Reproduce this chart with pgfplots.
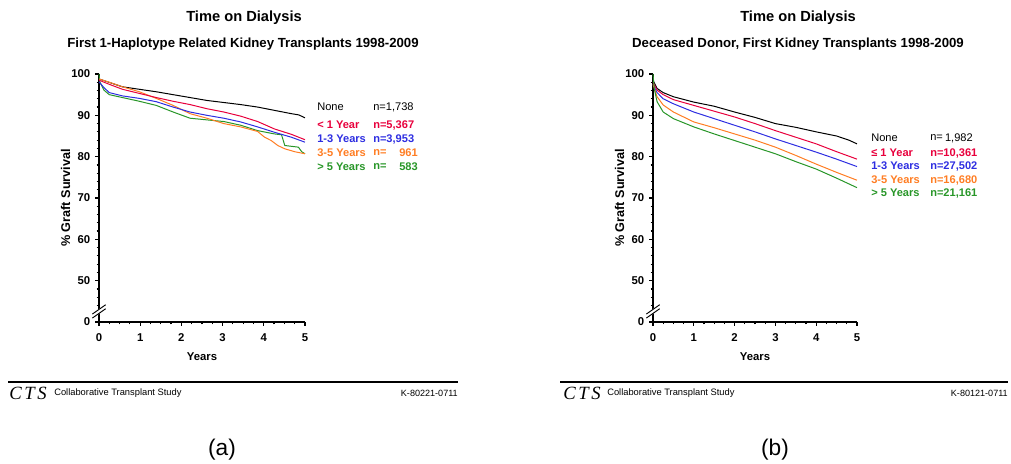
\documentclass[border=0pt]{standalone}
\usepackage{fontspec}
\setmainfont{Liberation Sans}
\newfontfamily\ctsfont{Liberation Serif}
\usepackage{pgfplots}
\pgfplotsset{compat=1.18}
\definecolor{cred}{RGB}{232,0,60}
\definecolor{cblue}{RGB}{45,45,225}
\definecolor{corange}{RGB}{255,125,35}
\definecolor{cgreen}{RGB}{40,150,40}
\pgfplotsset{kmaxis/.style={
  scale only axis, width=154.5pt, height=186pt,
  xmin=0, xmax=5, ymin=40, ymax=100,
  axis x line*=bottom, axis y line*=left,
  axis line style={line width=1.1pt, -},
  xtick={0,1,2,3,4,5}, ytick={40,50,60,70,80,90,100},
  yticklabels={0,50,60,70,80,90,100},
  minor x tick num=3, minor y tick num=4,
  tick align=outside, major tick length=3pt, minor tick length=1.8pt,
  every tick/.style={line width=0.9pt, black},
  /pgf/number format/assume math mode=true,
  ticklabel style={font=\fontsize{8.5}{9}\selectfont\bfseries},
  xticklabel style={yshift=-2.2pt},
  label style={font=\fontsize{8.5}{9}\selectfont\bfseries},
  xlabel={Years}, ylabel={\% Graft Survival},
  xlabel style={yshift=-1.5pt},
  ylabel style={yshift=-6pt, font=\fontsize{9.5}{10}\selectfont\bfseries},
  every axis plot/.append style={line width=0.75pt},
  clip=false,
}}
\newcommand{\axbreak}{%
  \draw[white, line width=3pt] ([xshift=-5pt,yshift=-3pt]axis cs:0,42.4) -- ++(10pt,7pt);
  \draw[black, line width=0.7pt] ([xshift=-5pt,yshift=-4.5pt]axis cs:0,42.4) -- ++(10pt,7pt);
  \draw[black, line width=0.7pt] ([xshift=-5pt,yshift=-1.5pt]axis cs:0,42.4) -- ++(10pt,7pt);
}
\begin{document}
\begin{tikzpicture}[x=0.75pt, y=0.75pt]
\path[use as bounding box] (0,0) rectangle (1011,464);
% ---------------- Left panel ----------------
\begin{axis}[kmaxis, at={(74.25pt,106.5pt)}, anchor=south west]
\addplot[black] coordinates {(0,98.8) (0.57,96.9) (0.98,96.3) (1.39,95.7) (1.80,95.0) (2.21,94.3) (2.62,93.6) (3.03,93.1) (3.44,92.6) (3.85,92.0) (4.26,91.2) (4.67,90.4) (4.85,90.1) (5,89.4)};
\addplot[cgreen] coordinates {(0,100) (0.02,98.1) (0.12,96.1) (0.25,95.0) (0.57,94.3) (0.98,93.4) (1.39,92.4) (1.80,90.8) (2.21,89.3) (2.62,88.9) (3.03,88.5) (3.44,87.6) (3.85,86.3) (4.26,85.5) (4.43,85.3) (4.51,82.7) (4.84,82.3) (4.92,81.2) (5,80.7)};
\addplot[corange] coordinates {(0,98.8) (0.25,98.0) (0.57,96.9) (0.98,95.7) (1.39,94.1) (1.80,92.4) (2.21,90.4) (2.62,89.3) (3.03,88.0) (3.44,87.2) (3.85,86.1) (4.02,84.7) (4.18,83.9) (4.34,82.7) (4.51,81.9) (4.75,81.2) (5,80.7)};
\addplot[cblue] coordinates {(0,98.1) (0.12,96.7) (0.25,95.5) (0.57,94.7) (0.98,94.1) (1.39,93.3) (1.80,92.0) (2.21,90.8) (2.62,90.0) (3.03,89.3) (3.44,88.4) (3.85,87.2) (4.26,85.9) (4.67,84.7) (5,83.5)};
\addplot[cred] coordinates {(0,98.5) (0.25,97.5) (0.57,96.3) (0.98,95.3) (1.39,94.3) (1.80,93.4) (2.21,92.6) (2.62,91.6) (3.03,90.8) (3.44,89.8) (3.85,88.5) (4.26,86.7) (4.67,85.4) (5,84.1)};
\axbreak
\end{axis}
% ---------------- Right panel ----------------
\begin{axis}[kmaxis, at={(489.75pt,106.5pt)}, anchor=south west, width=153pt]
\addplot[black] coordinates {(0,98.5) (0.1,96.5) (0.25,95.5) (0.5,94.5) (1,93.2) (1.5,92.2) (2,90.8) (2.5,89.5) (3,88.0) (3.5,87.1) (4,86.0) (4.5,85.0) (4.8,84.0) (5,83.1)};
\addplot[cred] coordinates {(0,98) (0.1,96.1) (0.25,95.0) (0.5,93.8) (1,92.4) (1.5,91.0) (2,89.6) (2.5,88.0) (3,86.3) (3.5,84.7) (4,83.1) (4.5,81.2) (5,79.4)};
\addplot[cblue] coordinates {(0,97.5) (0.1,95.5) (0.25,94.0) (0.5,92.8) (1,90.8) (1.5,89.2) (2,87.6) (2.5,86.0) (3,84.3) (3.5,82.7) (4,81.1) (4.5,79.4) (5,77.6)};
\addplot[corange] coordinates {(0,97.5) (0.1,94.5) (0.25,92.5) (0.5,90.8) (1,88.4) (1.5,87.0) (2,85.5) (2.5,84.0) (3,82.3) (3.5,80.3) (4,78.2) (4.5,76.2) (5,74.3)};
\addplot[cgreen] coordinates {(0,100) (0.03,96.5) (0.1,93.3) (0.25,90.8) (0.5,89.2) (1,87.2) (1.5,85.5) (2,83.9) (2.5,82.3) (3,80.7) (3.5,78.8) (4,77.0) (4.5,74.8) (5,72.5)};
\axbreak
\end{axis}
% ---------------- Titles ----------------
\node[font=\fontsize{11}{13}\selectfont\bfseries] at (244,446) {Time on Dialysis};
\node[font=\fontsize{9.9}{11}\selectfont\bfseries] at (243,420) {First 1-Haplotype Related Kidney Transplants 1998-2009};
\node[font=\fontsize{11}{13}\selectfont\bfseries] at (798,446) {Time on Dialysis};
\node[font=\fontsize{9.9}{11}\selectfont\bfseries] at (798,420) {Deceased Donor, First Kidney Transplants 1998-2009};
% ---------------- Legends ----------------
\begin{scope}[every node/.style={font=\fontsize{8.3}{9}\selectfont\bfseries, inner sep=0pt}]
\node[anchor=west, font=\fontsize{8.3}{9}\selectfont] at (317,357) {None};
\node[anchor=west, font=\fontsize{8.3}{9}\selectfont] at (373,357) {n=1,738};
\node[anchor=west, text=cred] at (317,339) {< 1 Year};
\node[anchor=west, text=cred] at (373,339) {n=5,367};
\node[anchor=west, text=cblue] at (317,325) {1-3 Years};
\node[anchor=west, text=cblue] at (373,325) {n=3,953};
\node[anchor=west, text=corange] at (317,311) {3-5 Years};
\node[anchor=west, text=corange] at (373,311) {n=};
\node[anchor=east, text=corange] at (418,311) {961};
\node[anchor=west, text=cgreen] at (317,297) {> 5 Years};
\node[anchor=west, text=cgreen] at (373,297) {n=};
\node[anchor=east, text=cgreen] at (418,297) {583};
% right
\node[anchor=west, font=\fontsize{8.3}{9}\selectfont] at (871,326) {None};
\node[anchor=west, font=\fontsize{8.3}{9}\selectfont] at (930,326) {n=};
\node[anchor=east, font=\fontsize{8.3}{9}\selectfont] at (973,326) {1,982};
\node[anchor=west, text=cred] at (871,311) {≤ 1 Year};
\node[anchor=west, text=cred] at (930,311) {n=10,361};
\node[anchor=west, text=cblue] at (871,298) {1-3 Years};
\node[anchor=west, text=cblue] at (930,298) {n=27,502};
\node[anchor=west, text=corange] at (871,284) {3-5 Years};
\node[anchor=west, text=corange] at (930,284) {n=16,680};
\node[anchor=west, text=cgreen] at (871,271) {> 5 Years};
\node[anchor=west, text=cgreen] at (930,271) {n=21,161};
\end{scope}
% ---------------- Footers ----------------
\draw[line width=0.9pt] (8,82) -- (458,82);
\draw[line width=0.9pt] (560,82) -- (1008,82);
\node[anchor=west, inner sep=0pt, font=\ctsfont\itshape\fontsize{14}{14}\selectfont] at (9,71) {C\kern2pt T\kern2pt S};
\node[anchor=west, inner sep=0pt, font=\fontsize{7}{8}\selectfont] at (54,71) {Collaborative Transplant Study};
\node[anchor=east, inner sep=0pt, font=\fontsize{6.8}{8}\selectfont] at (458,71) {K-80221-0711};
\node[anchor=west, inner sep=0pt, font=\ctsfont\itshape\fontsize{14}{14}\selectfont] at (563,71) {C\kern2pt T\kern2pt S};
\node[anchor=west, inner sep=0pt, font=\fontsize{7}{8}\selectfont] at (607,71) {Collaborative Transplant Study};
\node[anchor=east, inner sep=0pt, font=\fontsize{6.8}{8}\selectfont] at (1008,71) {K-80121-0711};
% ---------------- Panel labels ----------------
\node[font=\fontsize{17}{19}\selectfont] at (222,14) {(a)};
\node[font=\fontsize{17}{19}\selectfont] at (775,14) {(b)};
\end{tikzpicture}
\end{document}
